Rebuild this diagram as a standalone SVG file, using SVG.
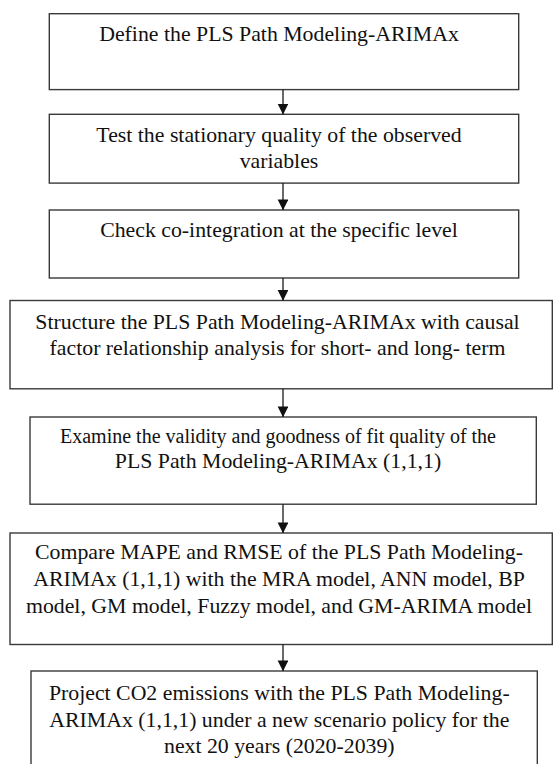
<svg xmlns="http://www.w3.org/2000/svg" width="553" height="764" viewBox="0 0 553 764">
<style>
.box{fill:#ffffff;stroke:#3a3a3a;stroke-width:1.4}
.t{font-family:"Liberation Serif","Times New Roman",serif;font-size:21.8px;fill:#111111;text-anchor:middle}
.s{font-size:20px}
.conn line{stroke:#1a1a1a;stroke-width:1.3}
</style>
<defs>
<marker id="ah" markerWidth="11" markerHeight="11" refX="10.6" refY="5.4" orient="auto" markerUnits="userSpaceOnUse">
<path d="M0,0 L10.8,5.4 L0,10.8 Z" fill="#111111"/>
</marker>
</defs>
<rect width="553" height="764" fill="#ffffff"/>
<g id="n1">
<rect class="box" x="49.3" y="13.7" width="469.4" height="75.9"/>
<text class="t" x="279" y="41.3">Define the PLS Path Modeling-ARIMAx</text>
</g>
<g id="n2">
<rect class="box" x="49.3" y="114.3" width="469.4" height="68.8"/>
<text class="t" x="279" y="141.7">Test the stationary quality of the observed</text>
<text class="t" x="279" y="167.7">variables</text>
</g>
<g id="n3">
<rect class="box" x="49.3" y="210" width="469.4" height="68"/>
<text class="t" x="279" y="237.3">Check co-integration at the specific level</text>
</g>
<g id="n4">
<rect class="box" x="10" y="300.5" width="542.3" height="88.3"/>
<text class="t" x="277.5" y="328.8">Structure the PLS Path Modeling-ARIMAx with causal</text>
<text class="t" x="277.5" y="355">factor relationship analysis for short- and long- term</text>
</g>
<g id="n5">
<rect class="box" x="30" y="417" width="506.3" height="87.2"/>
<text class="t s" x="278" y="443">Examine the validity and goodness of fit quality of the</text>
<text class="t" x="278" y="468">PLS Path Modeling-ARIMAx (1,1,1)</text>
</g>
<g id="n6">
<rect class="box" x="10" y="533" width="542.3" height="111.5"/>
<text class="t" x="279" y="559">Compare MAPE and RMSE of the PLS Path Modeling-</text>
<text class="t" x="279" y="586">ARIMAx (1,1,1) with the MRA model, ANN model, BP</text>
<text class="t" x="279" y="613">model, GM model, Fuzzy model, and GM-ARIMA model</text>
</g>
<g id="n7">
<rect class="box" x="31" y="671" width="506.3" height="110"/>
<text class="t" x="279.3" y="700">Project CO2 emissions with the PLS Path Modeling-</text>
<text class="t" x="279.3" y="726.5">ARIMAx (1,1,1) under a new scenario policy for the</text>
<text class="t" x="279.3" y="752.5">next 20 years (2020-2039)</text>
</g>
<g id="connectors" class="conn">
<line x1="283" y1="89.6" x2="283" y2="114.3" marker-end="url(#ah)"/>
<line x1="283" y1="183.1" x2="283" y2="210" marker-end="url(#ah)"/>
<line x1="283" y1="278" x2="283" y2="300.5" marker-end="url(#ah)"/>
<line x1="283" y1="388.8" x2="283" y2="417" marker-end="url(#ah)"/>
<line x1="283" y1="504.2" x2="283" y2="533" marker-end="url(#ah)"/>
<line x1="283" y1="644.5" x2="283" y2="671" marker-end="url(#ah)"/>
</g>
</svg>
